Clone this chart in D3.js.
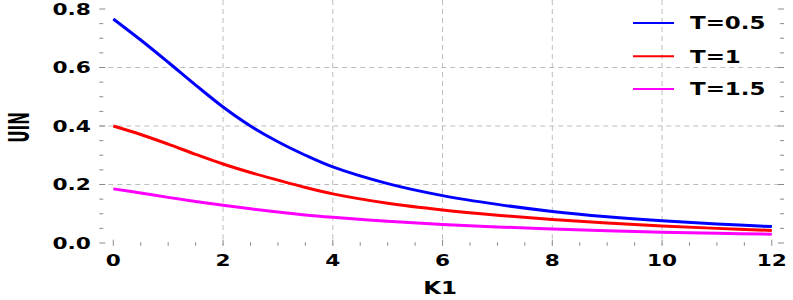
<!DOCTYPE html>
<meta charset="utf-8">
<script src="https://d3js.org/d3.v7.min.js"></script>
<style>
  body { margin: 0; background: #fff; }
  text { font-family: "DejaVu Sans", sans-serif; font-weight: bold; fill: #000; }
</style>
<div id="my_dataviz"></div>
<script>

// data
var k1 = [0, 0.5, 1, 1.5, 2, 2.5, 3, 3.5, 4, 5, 6, 7, 8, 9, 10, 11, 12];
var uinT05 = [0.766, 0.694, 0.618, 0.540, 0.465, 0.400, 0.346, 0.300, 0.260, 0.203, 0.162, 0.132, 0.108, 0.090, 0.076, 0.065, 0.056];
var uinT1 = [0.4, 0.371, 0.338, 0.303, 0.270, 0.241, 0.215, 0.190, 0.168, 0.136, 0.113, 0.095, 0.080, 0.068, 0.058, 0.050, 0.043];
var uinT15 = [0.185, 0.171, 0.156, 0.142, 0.129, 0.117, 0.106, 0.096, 0.088, 0.074, 0.063, 0.055, 0.048, 0.042, 0.037, 0.033, 0.030];
var seriesNames = ["T=0.5", "T=1", "T=1.5"];
var seriesColors = ["#0000ff", "#ff0000", "#ff00ff"];
var xTicks = [0, 2, 4, 6, 8, 10, 12];
var yTicks = [0, 0.2, 0.4, 0.6, 0.8];

var width = 793, height = 300;
var stretch = 1.35; // glyphs in the picture are wide

var svg = d3.select("#my_dataviz")
  .append("svg")
    .attr("width", width)
    .attr("height", height);

var x = d3.scaleLinear().domain([0, 12]).range([113.3, 771.8]);
var y = d3.scaleLinear().domain([0, 0.8]).range([243, 9]);

var left = x(-0.255), right = 784, top = 7, bottom = 245.7;

// grid
var grid = svg.append("g")
    .attr("stroke", "#bdbdbd")
    .attr("stroke-width", 1)
    .attr("stroke-dasharray", "5,4");
grid.selectAll("line.gx")
  .data(xTicks.filter(function(d) { return d > 0 && d < 12; }))
  .enter().append("line")
    .attr("x1", function(d) { return x(d); })
    .attr("x2", function(d) { return x(d); })
    .attr("y1", top)
    .attr("y2", bottom);
grid.selectAll("line.gy")
  .data(yTicks.filter(function(d) { return d > 0 && d < 0.8; }))
  .enter().append("line")
    .attr("x1", left)
    .attr("x2", right)
    .attr("y1", function(d) { return y(d); })
    .attr("y2", function(d) { return y(d); });

// frame
svg.append("rect")
    .attr("x", left)
    .attr("y", top)
    .attr("width", right - left)
    .attr("height", bottom - top)
    .attr("fill", "none")
    .attr("stroke", "#8a8a8a")
    .attr("stroke-width", 1);

// ticks on all four sides, inward
var xMinor = d3.range(0, 12.01, 0.5);
var yMinor = d3.range(0, 0.801, 0.05);
var ticks = svg.append("g").attr("stroke", "#8a8a8a").attr("stroke-width", 1);
function isMajorX(d) { return Math.abs(d / 2 - Math.round(d / 2)) < 1e-6; }
function isMajorY(d) { return Math.abs(d / 0.2 - Math.round(d / 0.2)) < 1e-6; }
xMinor.forEach(function(d) {
  var len = isMajorX(d) ? 6 : 3.5;
  ticks.append("line").attr("x1", x(d)).attr("x2", x(d)).attr("y1", bottom).attr("y2", bottom - len);
  ticks.append("line").attr("x1", x(d)).attr("x2", x(d)).attr("y1", top).attr("y2", top + len);
});
yMinor.forEach(function(d) {
  var len = isMajorY(d) ? 6 : 4;
  ticks.append("line").attr("x1", left).attr("x2", left + len).attr("y1", y(d)).attr("y2", y(d));
  ticks.append("line").attr("x1", right).attr("x2", right - len).attr("y1", y(d)).attr("y2", y(d));
});

// tick labels
svg.selectAll("text.xl")
  .data(xTicks)
  .enter().append("text")
    .attr("text-anchor", "middle")
    .style("font-size", "16px")
    .attr("transform", function(d) { return "translate(" + x(d) + ",265.5) scale(" + stretch + ",1)"; })
    .text(function(d) { return d; });
svg.selectAll("text.yl")
  .data(yTicks)
  .enter().append("text")
    .attr("text-anchor", "end")
    .style("font-size", "15px")
    .attr("transform", function(d) { return "translate(91," + (y(d) + 5.5) + ") scale(1.45,1)"; })
    .text(function(d) { return d.toFixed(1); });

// axis labels
svg.append("text")
    .attr("text-anchor", "middle")
    .style("font-size", "17px")
    .attr("transform", "translate(440,294) scale(" + stretch + ",1)")
    .text("K1");
svg.append("text")
    .attr("text-anchor", "middle")
    .style("font-size", "16px")
    .attr("transform", "translate(28.5,127.5) rotate(-90) scale(0.95,1.8)")
    .text("UIN");

// curves
var line = d3.line()
    .x(function(d) { return x(d[0]); })
    .y(function(d) { return y(d[1]); })
    .curve(d3.curveCatmullRom.alpha(0.5));
[uinT05, uinT1, uinT15].forEach(function(vals, i) {
  svg.append("path")
      .datum(k1.map(function(k, j) { return [k, vals[j]]; }))
      .attr("fill", "none")
      .attr("stroke", seriesColors[i])
      .attr("stroke-width", 3)
      .attr("d", line);
});

// legend
var legendY = [23, 56.3, 89];
var legend = svg.selectAll("g.legend")
  .data(seriesNames)
  .enter().append("g")
    .attr("transform", function(d, i) { return "translate(0," + legendY[i] + ")"; });
legend.append("line")
    .attr("x1", 633)
    .attr("x2", 674)
    .attr("stroke", function(d, i) { return seriesColors[i]; })
    .attr("stroke-width", 2);
legend.append("text")
    .style("font-size", "17px")
    .attr("transform", "translate(690,6.3) scale(" + stretch + ",1)")
    .text(function(d) { return d; });

</script>
